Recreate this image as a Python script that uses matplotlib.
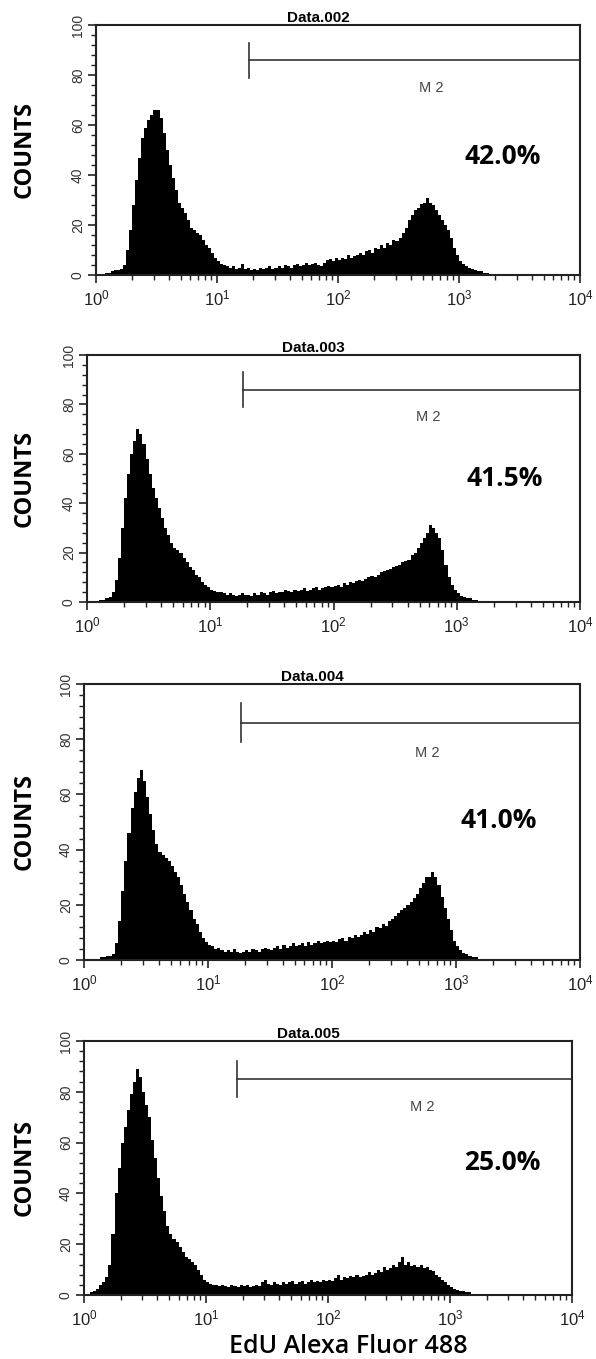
import numpy as np
import matplotlib.pyplot as plt
from matplotlib.ticker import LogLocator, MultipleLocator, NullFormatter

plt.rcParams['font.family'] = ['Liberation Sans', 'DejaVu Sans']
plt.rcParams['mathtext.fontset'] = 'custom'
plt.rcParams['mathtext.rm'] = 'Liberation Sans'
plt.rcParams['mathtext.default'] = 'regular'

# counts per log bin (0.025 decade wide, 10^0 .. 10^4), one row per decade
counts_002 = [0, 0.5, 0.5, 1, 1, 1.5, 2, 2, 2.5, 4, 10, 18, 28, 38, 47, 55, 59, 62, 64, 66,
              66, 63, 57, 50, 44, 39, 34, 29, 27, 25, 22, 19, 18, 17, 16, 14, 12, 11, 9, 7,
              5.5, 4.5, 4, 3.5, 3, 3.5, 2.5, 3, 4.5, 2.5, 3, 2, 2.5, 2, 3, 2.5, 3, 3.5, 2.5, 3,
              3.5, 3, 4, 3.5, 3, 4, 4.5, 3.5, 4, 5, 4, 4.5, 5, 4, 3.5, 5, 6, 6.5, 5.5, 7,
              6, 7, 6.5, 8, 7, 7.5, 8, 9, 8, 9.5, 10, 9, 11, 10.5, 12, 11, 13, 12, 14, 13.5,
              15, 17, 19, 22, 24, 26, 27, 28.5, 29, 31, 29, 28, 26, 24, 22, 20, 18, 15, 11, 8,
              5.5, 4.5, 3.5, 3, 2.5, 2, 1.5, 1.5, 1, 0.7, 0.4, 0.2, 0, 0, 0, 0, 0, 0, 0, 0,
              0, 0, 0, 0, 0, 0, 0, 0, 0, 0, 0, 0, 0, 0, 0, 0, 0, 0, 0, 0]
counts_003 = [0, 0.3, 0.5, 0.5, 1, 1, 1.5, 2, 4, 9, 18, 30, 42, 52, 60, 65, 70, 68, 64, 58,
              52, 46, 42, 38, 34, 30, 27, 24, 22, 21, 20, 18, 16, 14, 13, 11, 10, 8, 7, 6,
              5, 4.5, 4, 4, 3.5, 3, 3.5, 3, 2.5, 3, 3.5, 3, 3, 2.5, 3.5, 3, 4, 3.5, 3, 4,
              4.5, 3.5, 4, 4, 5, 4.5, 4, 5, 4.5, 5, 5.5, 4.5, 5, 5.5, 6, 5, 5.5, 6, 6.5, 6,
              6.5, 7, 6, 7.5, 7, 8, 7.5, 8.5, 9, 8.5, 9.5, 10, 10.5, 10, 11, 12, 12.5, 13, 13.5, 14,
              14.5, 15, 16, 16.5, 17, 19, 20, 22, 24, 26, 28, 31, 30, 28, 26, 21, 15, 10, 7, 5,
              3.5, 2.5, 2, 1.5, 1.5, 1, 0.8, 0.5, 0.3, 0.2, 0, 0, 0, 0, 0, 0, 0, 0, 0, 0,
              0, 0, 0, 0, 0, 0, 0, 0, 0, 0, 0, 0, 0, 0, 0, 0, 0, 0, 0, 0]
counts_004 = [0, 0.2, 0.3, 0.5, 0.5, 1, 1, 1.5, 1.5, 2, 6, 14, 25, 36, 46, 55, 61, 66, 69, 65,
              59, 53, 47, 42, 39, 38, 37, 36, 34, 32, 30, 27, 24, 21, 18, 15, 13, 10, 8, 6.5,
              5.5, 5, 4, 4.5, 3.5, 3, 3.5, 3, 4, 3, 2.5, 3, 3.5, 3, 4, 3.5, 3, 4, 4.5, 4,
              3.5, 4.5, 5, 4, 5.5, 4.5, 5, 6, 5, 5.5, 6, 5, 6.5, 5.5, 6, 7, 6, 6.5, 7, 6.5,
              7, 6.5, 7.5, 8, 7, 8.5, 8, 9, 8.5, 9, 10, 9.5, 11, 10, 12, 11.5, 13, 12.5, 14, 15,
              16, 17, 18, 19, 20, 21, 22.5, 24, 26, 28, 30, 30, 32, 30, 27, 23, 19, 15, 11, 7,
              5, 3.5, 2.5, 2, 1.5, 1, 1, 0.5, 0.3, 0.2, 0, 0, 0, 0, 0, 0, 0, 0, 0, 0,
              0, 0, 0, 0, 0, 0, 0, 0, 0, 0, 0, 0, 0, 0, 0, 0, 0, 0, 0, 0]
counts_005 = [0, 0.5, 1, 1.5, 2.5, 4, 5, 7, 12, 24, 40, 50, 60, 66, 73, 79, 84, 89, 86, 80,
              75, 70, 61, 54, 46, 39, 33, 27, 24, 22, 21, 19, 17, 15, 14, 13, 12, 10, 8, 6,
              5, 4.5, 4, 4, 3.5, 4, 3.5, 3, 4, 3.5, 3, 4, 3.5, 4, 3, 3.5, 4, 3.5, 5, 6,
              4.5, 4, 5, 4.5, 4, 5, 4.5, 5, 5.5, 4.5, 5, 5.5, 4.5, 5, 6, 5, 5.5, 5, 6, 5.5,
              6, 5.5, 6.5, 8, 6, 7, 6.5, 7.5, 7, 8, 7, 7.5, 8, 9, 8, 8.5, 10, 9, 11, 10,
              10.5, 12, 11, 13, 15, 12, 13, 11.5, 12, 11, 12, 10.5, 11, 10, 9.5, 8, 7, 6, 5, 4,
              3, 2.5, 2, 1.5, 1.5, 1, 1, 0.5, 0, 0, 0, 0, 0, 0, 0, 0, 0, 0, 0, 0,
              0, 0, 0, 0, 0, 0, 0, 0, 0, 0, 0, 0, 0, 0, 0, 0, 0, 0, 0, 0]

titles = ["Data.002", "Data.003", "Data.004", "Data.005"]
percents = ["42.0%", "41.5%", "41.0%", "25.0%"]
pct_x = [2290, 2450, 2190, 2690]
pct_y = [47.6, 50, 50.7, 52]
gate_start = [18.4, 18.5, 18.5, 17.8]
gate_y = [86, 86, 86, 85]
all_counts = [counts_002, counts_003, counts_004, counts_005]

W, H = 596, 1359
# axes boxes in pixels: left, right, top, bottom
boxes = [(96, 580, 25, 275), (87, 580, 355, 602), (84, 580, 684, 960), (84, 572, 1041, 1295)]

fig = plt.figure(figsize=(W / 100, H / 100), dpi=100)
edges = np.logspace(0, 4, 161)

for i, (l, r, t, b) in enumerate(boxes):
    ax = fig.add_axes([l / W, (H - b) / H, (r - l) / W, (b - t) / H])
    ax.stairs(all_counts[i], edges, fill=True, color='black', baseline=0)
    ax.set_xscale('log')
    ax.set_xlim(1, 1e4)
    ax.set_ylim(0, 100)

    # M2 gate
    ax.plot([gate_start[i], 1e4], [gate_y[i], gate_y[i]], color='#333333', lw=1.2, clip_on=False)
    ax.plot([gate_start[i], gate_start[i]], [gate_y[i] - 7, gate_y[i] + 7], color='#333333', lw=1.2)
    ax.text(10 ** 2.77, gate_y[i] - 11, "M 2", ha='center', va='center', fontsize=10.5, color='#444444')

    ax.text(pct_x[i], pct_y[i], percents[i], ha='center', va='center', fontsize=19,
            fontweight='bold', family='Open Sans')
    ax.set_title(titles[i], fontsize=11, fontweight='bold', x=0.46, pad=2)

    ax.xaxis.set_major_locator(LogLocator(base=10, numticks=10))
    ax.xaxis.set_minor_locator(LogLocator(base=10, subs=np.arange(2, 10), numticks=10))
    ax.xaxis.set_minor_formatter(NullFormatter())
    ax.yaxis.set_major_locator(MultipleLocator(20))
    ax.yaxis.set_minor_locator(MultipleLocator(4))
    ax.tick_params(which='major', direction='out', length=6, width=1.2, colors='#222222')
    ax.tick_params(which='minor', direction='out', length=3.5, width=1.0, colors='#222222')
    ax.tick_params(axis='x', labelsize=12, pad=4)
    ax.tick_params(axis='y', labelsize=10, labelrotation=90, pad=2, labelcolor='#333333')
    for lab in ax.get_yticklabels():
        lab.set_va('center')
    for s in ax.spines.values():
        s.set_linewidth(1.5)
        s.set_color('#222222')

    fig.text(25 / W, (H - (t + b) / 2) / H, "COUNTS", rotation=90, ha='center', va='center',
             fontsize=17, fontweight='bold', family='Open Sans')

fig.text(348 / W, (H - 1334) / H, "EdU Alexa Fluor 488", ha='center', va='top',
         fontsize=18, fontweight='semibold', family='Open Sans')

fig.savefig("out.png", dpi=100)
